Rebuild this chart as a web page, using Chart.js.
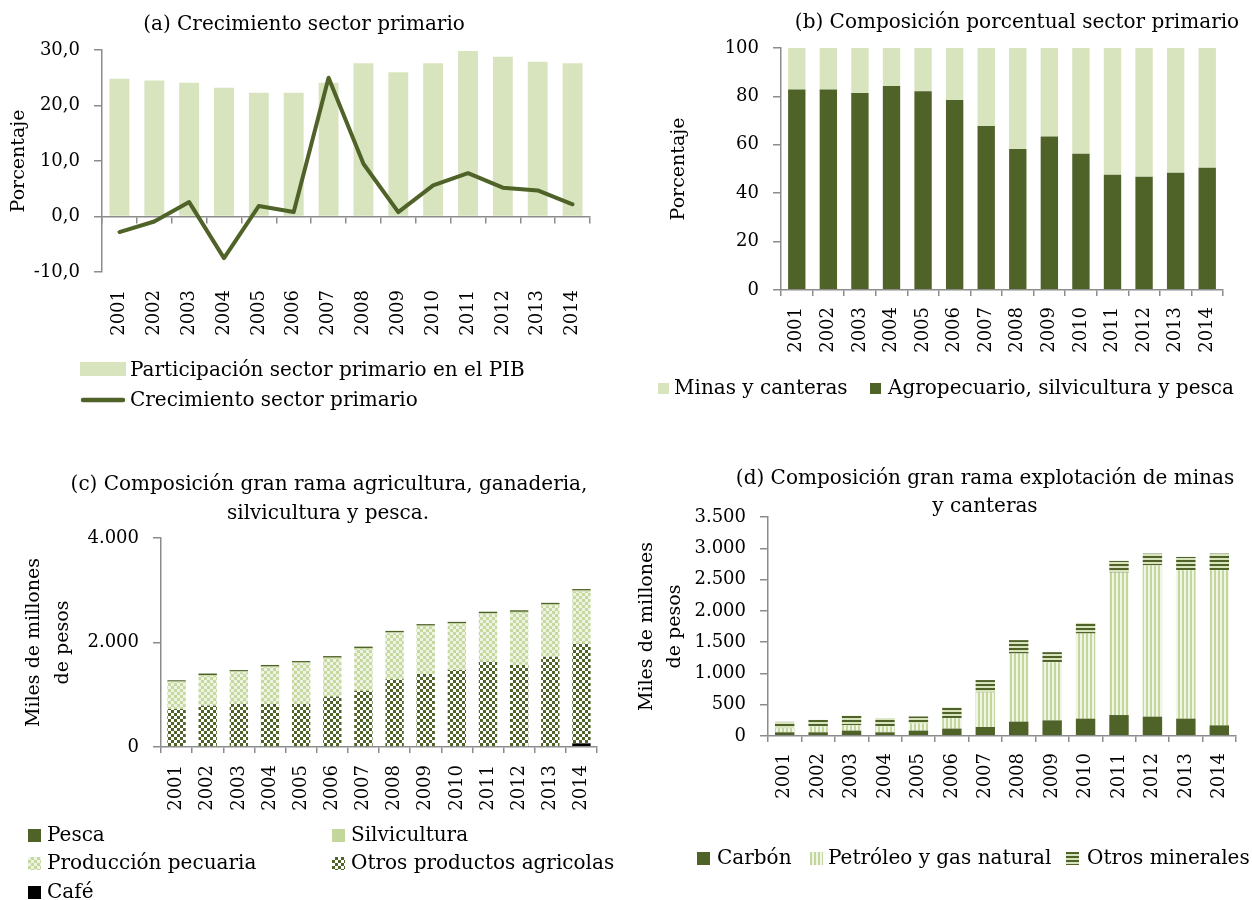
<!DOCTYPE html>
<html>
<head>
<meta charset="utf-8">
<script src="https://cdn.jsdelivr.net/npm/chart.js@4.4.1/dist/chart.umd.min.js"></script>
<style>
  body { margin: 0; background: #fff; }
  #page { position: relative; width: 1252px; height: 900px; overflow: hidden; font-family: 'DejaVu Serif', serif; color: #000; }
  #page canvas { position: absolute; }
  .txt { position: absolute; font-size: 20px; line-height: 28px; white-space: nowrap; }
  .ttl { position: absolute; font-size: 20px; line-height: 28px; white-space: nowrap; text-align: center; width: 640px; }
</style>
</head>
<body>
<div id="page">
  <canvas id="chartA" width="626" height="440" style="left:0;top:0"></canvas>
  <canvas id="chartB" width="626" height="440" style="left:626px;top:0"></canvas>
  <canvas id="chartC" width="626" height="460" style="left:0;top:440px"></canvas>
  <canvas id="chartD" width="626" height="460" style="left:626px;top:440px"></canvas>
</div>
<script>
const years = ['2001', '2002', '2003', '2004', '2005', '2006', '2007', '2008', '2009', '2010', '2011', '2012', '2013', '2014'];

// (a) percent
const participacionPIB = [24.8, 24.5, 24.1, 23.2, 22.3, 22.3, 24.1, 27.6, 26.0, 27.6, 29.8, 28.8, 27.9, 27.6];
const crecimientoPrimario = [-2.8, -0.9, 2.6, -7.5, 1.9, 0.8, 25.0, 9.5, 0.8, 5.6, 7.8, 5.2, 4.7, 2.2];

// (b) percent of primary sector
const agropecuarioPct = [82.8, 82.8, 81.4, 84.3, 82.1, 78.5, 67.8, 58.3, 63.4, 56.3, 47.6, 46.8, 48.4, 50.5];
const minasPct = [17.2, 17.2, 18.6, 15.7, 17.9, 21.5, 32.2, 41.7, 36.6, 43.7, 52.4, 53.2, 51.6, 49.5];

// (c) miles de millones de pesos
const cafe = [0, 0, 0, 0, 0, 0, 0, 0, 0, 0, 0, 0, 0, 70];
const otrosAgricolas = [729, 793, 826, 826, 826, 968, 1075, 1299, 1395, 1472, 1632, 1567, 1729, 1904];
const pecuaria = [509, 568, 606, 696, 774, 722, 800, 877, 909, 877, 909, 1000, 980, 999];
const silvicultura = [15, 16, 16, 18, 18, 20, 18, 18, 20, 18, 20, 20, 20, 22];
const pesca = [24, 29, 24, 30, 27, 30, 28, 28, 28, 28, 28, 30, 30, 28];

// (d) miles de millones de pesos
const carbon = [59, 59, 86, 59, 86, 118, 144, 229, 250, 277, 335, 309, 277, 170];
const petroleo = [65, 92, 86, 92, 118, 167, 553, 1090, 925, 1361, 2277, 2420, 2372, 2479];
const otrosMinerales = [102, 107, 151, 134, 108, 172, 197, 213, 165, 170, 186, 186, 213, 266];

const FONT = "'DejaVu Serif', serif";
const AXIS = '#8c8c8c';
const DARK = '#4f6228';
const LIGHT = '#d7e4bd';
const MID = '#c3d69b';

function pattern(w, h, draw) {
  const tile = document.createElement('canvas');
  tile.width = w;
  tile.height = h;
  const g = tile.getContext('2d');
  draw(g);
  return g.createPattern(tile, 'repeat');
}

const checkDark = pattern(6, 6, g => {
  g.fillStyle = DARK; g.fillRect(0, 0, 6, 6);
  g.fillStyle = '#ffffff'; g.fillRect(0, 0, 3, 3); g.fillRect(3, 3, 3, 3);
});
const checkLight = pattern(6, 6, g => {
  g.fillStyle = '#c6d8a0'; g.fillRect(0, 0, 6, 6);
  g.fillStyle = '#eef4e2'; g.fillRect(0, 0, 3, 3); g.fillRect(3, 3, 3, 3);
});
const vStripes = pattern(4, 4, g => {
  g.fillStyle = '#f0f5e6'; g.fillRect(0, 0, 4, 4);
  g.fillStyle = MID; g.fillRect(0, 0, 2, 4);
});
const hStripes = pattern(4, 4, g => {
  g.fillStyle = LIGHT; g.fillRect(0, 0, 4, 4);
  g.fillStyle = DARK; g.fillRect(0, 0, 4, 2);
});

function fixSize(w, h) {
  return function (scale) {
    if (w !== null) scale.width = w;
    if (h !== null) scale.height = h;
    scale.paddingLeft = 0;
    scale.paddingRight = 0;
    scale.paddingTop = 0;
    scale.paddingBottom = 0;
  };
}

function thousands(v) {
  return String(v).replace(/\B(?=(\d{3})+(?!\d))/g, '.');
}

function valueAxis(min, max, step, fmt, width, title) {
  return {
    min: min,
    max: max,
    stacked: true,
    afterFit: fixSize(width, null),
    border: { display: true, color: AXIS, width: 1.5 },
    grid: { drawOnChartArea: false, drawTicks: true, tickLength: 8, color: AXIS, lineWidth: 1.5 },
    ticks: { stepSize: step, padding: 14, color: '#000', font: { family: FONT, size: 18 }, callback: fmt },
    title: title
  };
}

function yearAxis(height, padding) {
  return {
    stacked: true,
    offset: true,
    afterFit: fixSize(null, height),
    border: { display: true, color: AXIS, width: 1.5, z: 1 },
    grid: { display: true, drawOnChartArea: false, drawTicks: true, tickLength: 6, color: AXIS, lineWidth: 1.5, offset: true },
    ticks: { minRotation: 90, maxRotation: 90, autoSkip: false, padding: padding, color: '#000', font: { family: FONT, size: 18 } }
  };
}

function axisTitle(text, top, lineHeight) {
  return {
    display: true,
    text: text,
    color: '#000',
    font: { family: FONT, size: 19, lineHeight: lineHeight },
    padding: { top: top, bottom: 0 }
  };
}

function baseOptions(padding, scales) {
  return {
    responsive: false,
    devicePixelRatio: 1,
    animation: false,
    layout: { padding: padding, autoPadding: false },
    plugins: { legend: { display: false }, tooltip: { enabled: false } },
    scales: scales
  };
}

function bar(label, data, fill, pct) {
  return { label: label, data: data, backgroundColor: fill, borderWidth: 0, barPercentage: pct, categoryPercentage: 1 };
}

// (a) Crecimiento sector primario
new Chart(document.getElementById('chartA'), {
  type: 'bar',
  data: {
    labels: years,
    datasets: [
      {
        type: 'line', label: 'Crecimiento sector primario', data: crecimientoPrimario,
        borderColor: DARK, borderWidth: 4, pointRadius: 0, tension: 0,
        borderCapStyle: 'round', borderJoinStyle: 'round', order: 1
      },
      Object.assign(bar('Participación sector primario en el PIB', participacionPIB, LIGHT, 0.57), { order: 2 })
    ]
  },
  options: baseOptions({ left: 0, right: 36, top: 50, bottom: 0 }, {
    x: {
      type: 'category',
      position: { y: 0 },
      offset: true,
      afterFit: fixSize(null, null),
      border: { display: true, color: AXIS, width: 1.5 },
      grid: { display: true, drawOnChartArea: false, drawTicks: true, tickLength: 6, color: AXIS, lineWidth: 1.5, offset: true },
      ticks: { display: false }
    },
    x2: {
      type: 'category',
      position: 'bottom',
      offset: true,
      afterFit: fixSize(null, 168),
      border: { display: false },
      grid: { display: false, drawTicks: false },
      ticks: { minRotation: 90, maxRotation: 90, autoSkip: false, padding: 18, color: '#000', font: { family: FONT, size: 18 } }
    },
    y: Object.assign(valueAxis(-10, 30, 10, v => v.toFixed(1).replace('.', ','), 102,
      axisTitle('Porcentaje', 7.6, 1.2)), { stacked: false })
  })
});

// (b) Composición porcentual sector primario
new Chart(document.getElementById('chartB'), {
  type: 'bar',
  data: {
    labels: years,
    datasets: [
      bar('Agropecuario, silvicultura y pesca', agropecuarioPct, DARK, 0.55),
      bar('Minas y canteras', minasPct, LIGHT, 0.55)
    ]
  },
  options: baseOptions({ left: 0, right: 29, top: 48, bottom: 0 }, {
    x: yearAxis(150, 11),
    y: valueAxis(0, 100, 20, v => v, 155, axisTitle('Porcentaje', 41.6, 1.2))
  })
});

// (c) Composición gran rama agricultura
new Chart(document.getElementById('chartC'), {
  type: 'bar',
  data: {
    labels: years,
    datasets: [
      bar('Café', cafe, '#000000', 0.59),
      bar('Otros productos agricolas', otrosAgricolas, checkDark, 0.59),
      bar('Producción pecuaria', pecuaria, checkLight, 0.59),
      bar('Silvicultura', silvicultura, MID, 0.59),
      bar('Pesca', pesca, DARK, 0.59)
    ]
  },
  options: baseOptions({ left: 0, right: 29, top: 98, bottom: 0 }, {
    x: yearAxis(153, 12),
    y: valueAxis(0, 4000, 2000, thousands, 161,
      axisTitle(['Miles de millones', 'de pesos'], 19.5, 29 / 19))
  })
});

// (d) Composición gran rama explotación de minas y canteras
new Chart(document.getElementById('chartD'), {
  type: 'bar',
  data: {
    labels: years,
    datasets: [
      bar('Carbón', carbon, DARK, 0.58),
      bar('Petróleo y gas natural', petroleo, vStripes, 0.58),
      bar('Otros minerales', otrosMinerales, hStripes, 0.58)
    ]
  },
  options: baseOptions({ left: 0, right: 16, top: 77, bottom: 0 }, {
    x: yearAxis(164, 11),
    y: valueAxis(0, 3500, 500, thousands, 142,
      axisTitle(['Miles de millones', 'de pesos'], 7, 28 / 19))
  })
});

// titles and legends as page text
const page = document.getElementById('page');

function addTitle(text, cx, cy) {
  const d = document.createElement('div');
  d.className = 'ttl';
  d.textContent = text;
  d.style.left = (cx - 320) + 'px';
  d.style.top = (cy - 14) + 'px';
  page.appendChild(d);
}

function addText(text, x, cy) {
  const d = document.createElement('div');
  d.className = 'txt';
  d.textContent = text;
  d.style.left = x + 'px';
  d.style.top = (cy - 15) + 'px';
  page.appendChild(d);
}

function addSwatch(x, cy, w, h, fill) {
  const c = document.createElement('canvas');
  c.width = w;
  c.height = h;
  c.style.left = x + 'px';
  c.style.top = Math.round(cy - h / 2) + 'px';
  const g = c.getContext('2d');
  g.fillStyle = fill;
  g.fillRect(0, 0, w, h);
  page.appendChild(c);
}

function addLineSwatch(x, cy, w) {
  const c = document.createElement('canvas');
  c.width = w;
  c.height = 8;
  c.style.left = x + 'px';
  c.style.top = (cy - 4) + 'px';
  const g = c.getContext('2d');
  g.strokeStyle = DARK;
  g.lineWidth = 4.5;
  g.lineCap = 'round';
  g.beginPath();
  g.moveTo(3, 4);
  g.lineTo(w - 3, 4);
  g.stroke();
  page.appendChild(c);
}

addTitle('(a) Crecimiento sector primario', 304, 23);
addTitle('(b) Composición porcentual sector primario', 1017, 21);
addTitle('(c) Composición gran rama agricultura, ganaderia,', 329, 483);
addTitle('silvicultura y pesca.', 328, 512);
addTitle('(d) Composición gran rama explotación de minas', 985, 477);
addTitle('y canteras', 985, 505);

// (a) legend
addSwatch(80, 369, 46, 14, LIGHT);
addText('Participación sector primario en el PIB', 130, 370);
addLineSwatch(80, 400, 46);
addText('Crecimiento sector primario', 130, 400);

// (b) legend
addSwatch(658, 388, 11, 11, LIGHT);
addText('Minas y canteras', 674, 388);
addSwatch(870, 388, 11, 11, DARK);
addText('Agropecuario, silvicultura y pesca', 888, 388);

// (c) legend
addSwatch(28, 835, 13, 13, DARK);
addText('Pesca', 47, 835);
addSwatch(332, 835, 13, 13, MID);
addText('Silvicultura', 351, 835);
addSwatch(28, 863, 13, 13, checkLight);
addText('Producción pecuaria', 47, 863);
addSwatch(332, 863, 13, 13, checkDark);
addText('Otros productos agricolas', 351, 863);
addSwatch(28, 892, 13, 13, '#000000');
addText('Café', 47, 892);

// (d) legend
addSwatch(697, 858, 13, 13, DARK);
addText('Carbón', 717, 858);
addSwatch(810, 858, 13, 13, vStripes);
addText('Petróleo y gas natural', 828, 858);
addSwatch(1066, 858, 13, 13, hStripes);
addText('Otros minerales', 1087, 858);
</script>
</body>
</html>
